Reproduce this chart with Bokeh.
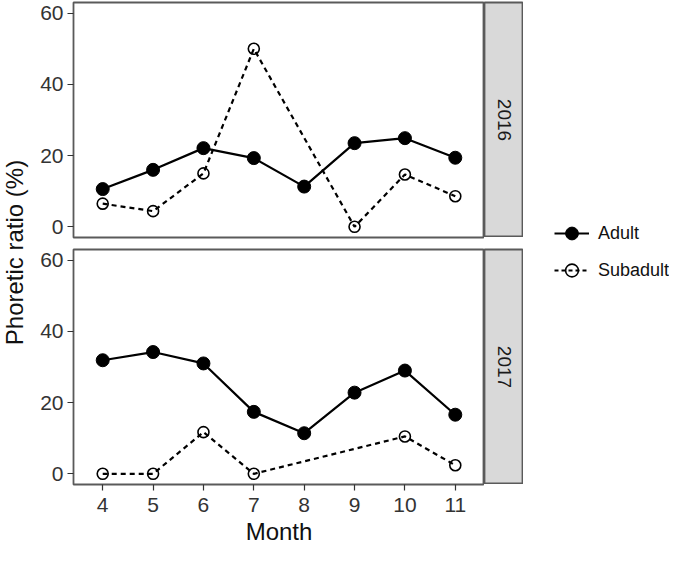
import math
from bokeh.plotting import figure
from bokeh.layouts import row, column
from bokeh.models import Range1d, Label, Legend, LegendItem, FixedTicker
from bokeh.embed import file_html
from bokeh.resources import INLINE

# ---- data ----
months = [4, 5, 6, 7, 8, 9, 10, 11]
adult_2016 = [10.6, 16.0, 22.1, 19.3, 11.3, 23.5, 24.9, 19.4]
sub_months_2016 = [4, 5, 6, 7, 9, 10, 11]
sub_2016 = [6.5, 4.4, 15.0, 50.0, 0.0, 14.7, 8.6]
adult_2017 = [31.9, 34.2, 31.0, 17.4, 11.4, 22.8, 29.0, 16.6]
sub_months_2017 = [4, 5, 6, 7, 10, 11]
sub_2017 = [0.0, 0.0, 11.7, 0.0, 10.5, 2.4]
years = ["2016", "2017"]
y_ticks = [0, 20, 40, 60]
x_ticks = months
series_labels = ["Adult", "Subadult"]

FONT = "Liberation Sans"
BORDER = "#5a5a5a"
FW, FH = 411, 235
TOP_GAP = 6
TOTAL_H = 547
YL_W = 30


def panel(adult, sm, sv, top_border, show_x):
    p = figure(frame_width=FW, frame_height=FH, output_backend="svg",
               toolbar_location=None,
               x_range=Range1d(3.42, 11.58), y_range=Range1d(-3, 63),
               x_axis_location="below" if show_x else None,
               min_border_left=73 - YL_W, min_border_right=0,
               min_border_top=top_border, min_border_bottom=0 if show_x else TOP_GAP)
    p.grid.visible = False
    p.outline_line_color = BORDER
    p.outline_line_width = 1.8
    p.background_fill_color = "white"
    p.border_fill_color = "white"
    axes = [p.yaxis[0]] + ([p.xaxis[0]] if show_x else [])
    for ax in axes:
        ax.axis_line_color = None
        ax.major_tick_line_color = "#333333"
        ax.major_tick_line_width = 1.2
        ax.major_tick_out = 6
        ax.major_tick_in = 0
        ax.minor_tick_line_color = None
        ax.major_label_text_font = FONT
        ax.major_label_text_font_size = "21px"
        ax.major_label_text_color = "#333333"
        ax.major_label_standoff = 4
    p.yaxis.ticker = FixedTicker(ticks=y_ticks)
    if show_x:
        p.xaxis.ticker = FixedTicker(ticks=x_ticks)
        p.xaxis.major_label_standoff = 7
        p.xaxis.axis_label = "Month"
        p.xaxis.axis_label_text_font = FONT
        p.xaxis.axis_label_text_font_size = "24px"
        p.xaxis.axis_label_text_font_style = "normal"
        p.xaxis.axis_label_text_color = "#111111"
        p.xaxis.axis_label_standoff = 3
    p.line(months, adult, line_color="black", line_width=2.2)
    p.scatter(months, adult, size=13, fill_color="black", line_color="black")
    p.line(sm, sv, line_color="black", line_width=2.2, line_dash="5 4")
    p.scatter(sm, sv, size=11, fill_color=None, line_color="black", line_width=1.6)
    return p


def strip(text, top_border):
    s = figure(frame_width=39, frame_height=FH, output_backend="svg",
               toolbar_location=None, x_range=Range1d(0, 1), y_range=Range1d(0, 1),
               x_axis_location=None, y_axis_location=None,
               min_border_left=0, min_border_right=0,
               min_border_top=top_border, min_border_bottom=0)
    s.grid.visible = False
    s.background_fill_color = "#d9d9d9"
    s.border_fill_color = "white"
    s.outline_line_color = BORDER
    s.outline_line_width = 1.8
    s.add_layout(Label(x=0.5, y=0.5, text=text, angle=-math.pi / 2,
                       text_align="center", text_baseline="middle",
                       text_font=FONT, text_font_size="19px", text_color="#1a1a1a"))
    return s


top = panel(adult_2016, sub_months_2016, sub_2016, 2, False)
bot = panel(adult_2017, sub_months_2017, sub_2017, TOP_GAP, True)
s_top = strip(years[0], 2)
s_bot = strip(years[1], TOP_GAP)

# y label figure
yl = figure(width=YL_W, height=TOTAL_H, output_backend="svg", toolbar_location=None,
            x_range=Range1d(0, YL_W), y_range=Range1d(0, TOTAL_H),
            x_axis_location=None, y_axis_location=None,
            min_border=0)
yl.grid.visible = False
yl.outline_line_color = None
yl.add_layout(Label(x=14, y=TOTAL_H - 252, text="Phoretic ratio (%)", angle=math.pi / 2,
                    text_align="center", text_baseline="middle",
                    text_font=FONT, text_font_size="24px", text_color="#111111"))

# legend figure (series glyphs drawn off-frame, only the legend is visible)
LG_W = 669 - (73 + FW + 39)
lg = figure(width=LG_W, height=TOTAL_H, output_backend="svg", toolbar_location=None,
            x_range=Range1d(100, 101), y_range=Range1d(100, 101),
            x_axis_location=None, y_axis_location=None, min_border=0)
lg.grid.visible = False
lg.outline_line_color = None
r1 = lg.line(months, adult_2016, line_color="black", line_width=2.2)
r2 = lg.scatter(months, adult_2016, size=13, fill_color="black", line_color="black")
r3 = lg.line(sub_months_2016, sub_2016, line_color="black", line_width=2.2, line_dash="4 3")
r4 = lg.scatter(sub_months_2016, sub_2016, size=11, fill_color=None, line_color="black",
                line_width=1.6)
legend = Legend(items=[LegendItem(label=series_labels[0], renderers=[r1, r2]),
                       LegendItem(label=series_labels[1], renderers=[r3, r4])],
                location=(31, 261), padding=0, margin=0, spacing=5,
                glyph_width=35, glyph_height=32, label_height=32, label_standoff=9,
                label_text_font=FONT, label_text_font_size="18px",
                label_text_color="#111111",
                border_line_color=None, background_fill_alpha=0)
lg.add_layout(legend)

layout = row(yl, column(row(top, s_top), row(bot, s_bot)), lg)

open("out.html", "w").write(file_html(layout, INLINE))
